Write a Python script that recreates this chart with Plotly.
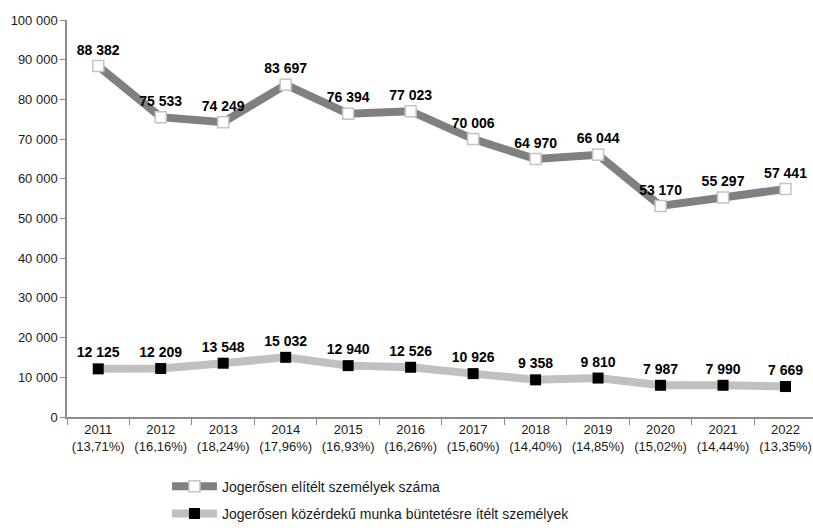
import plotly.graph_objects as go

years = ["2011", "2012", "2013", "2014", "2015", "2016", "2017", "2018", "2019", "2020", "2021", "2022"]
shares = ["13,71%", "16,16%", "18,24%", "17,96%", "16,93%", "16,26%", "15,60%", "14,40%", "14,85%", "15,02%", "14,44%", "13,35%"]
convicted = [88382, 75533, 74249, 83697, 76394, 77023, 70006, 64970, 66044, 53170, 55297, 57441]
community = [12125, 12209, 13548, 15032, 12940, 12526, 10926, 9358, 9810, 7987, 7990, 7669]
series_names = ["Jogerősen elítélt személyek száma",
                "Jogerősen közérdekű munka büntetésre ítélt személyek"]
ytick_vals = list(range(0, 100001, 10000))

def fmt(v):
    return f"{v:,}".replace(",", " ")

cats = [f"{y}<br>({s})" for y, s in zip(years, shares)]
FONT = "Liberation Sans Narrow, Arial Narrow, Liberation Sans, Arial, sans-serif"

fig = go.Figure()
fig.add_trace(go.Scatter(
    x=cats, y=convicted, name=series_names[0], mode="lines+markers+text",
    legendgroup="a",
    line=dict(color="#808080", width=8),
    marker=dict(symbol="square", size=11, color="white", line=dict(color="#c4c4c4", width=1.5)),
    text=[fmt(v) for v in convicted], textposition="top center",
    textfont=dict(family=FONT, size=14, color="black", weight="bold"),
    cliponaxis=False,
))
fig.add_trace(go.Scatter(
    x=cats, y=community, name=series_names[1], mode="lines+markers+text",
    legendgroup="b",
    line=dict(color="#c0c0c0", width=8),
    marker=dict(symbol="square", size=11, color="black"),
    text=[fmt(v) for v in community], textposition="top center",
    textfont=dict(family=FONT, size=14, color="black", weight="bold"),
    cliponaxis=False,
))

fig.update_layout(
    width=813, height=530,
    margin=dict(l=67, r=0, t=20, b=107),
    paper_bgcolor="white", plot_bgcolor="white",
    font=dict(family=FONT, size=13, color="#1a1a1a"),
    showlegend=True,
    legend=dict(x=0.134, y=-0.135, xanchor="left", yanchor="top",
                font=dict(family=FONT, size=14, color="#1a1a1a"),
                tracegroupgap=6, itemwidth=45, bgcolor="rgba(0,0,0,0)"),
)
fig.update_xaxes(
    type="category", range=[-0.5, 11.44], showgrid=False, automargin=False,
    showline=True, linecolor="#8c8c8c", linewidth=1.5, tickangle=0,
    ticks="outside", ticklen=6, tickcolor="#8c8c8c", tickson="boundaries",
    tickfont=dict(family=FONT, size=13, color="#1a1a1a"),
)
fig.update_yaxes(
    range=[0, 100000], showgrid=False, zeroline=False, automargin=False,
    showline=True, linecolor="#8c8c8c", linewidth=1.5,
    ticks="outside", ticklen=5, tickcolor="#8c8c8c",
    tickvals=ytick_vals, ticktext=[fmt(v) for v in ytick_vals],
    tickfont=dict(family=FONT, size=13, color="#1a1a1a"),
)

# remove the browser's default 8px body margin so the figure fills the window exactly
fig.write_html("out.html", config={"displayModeBar": False},
               post_script="document.body.style.margin='0';")
